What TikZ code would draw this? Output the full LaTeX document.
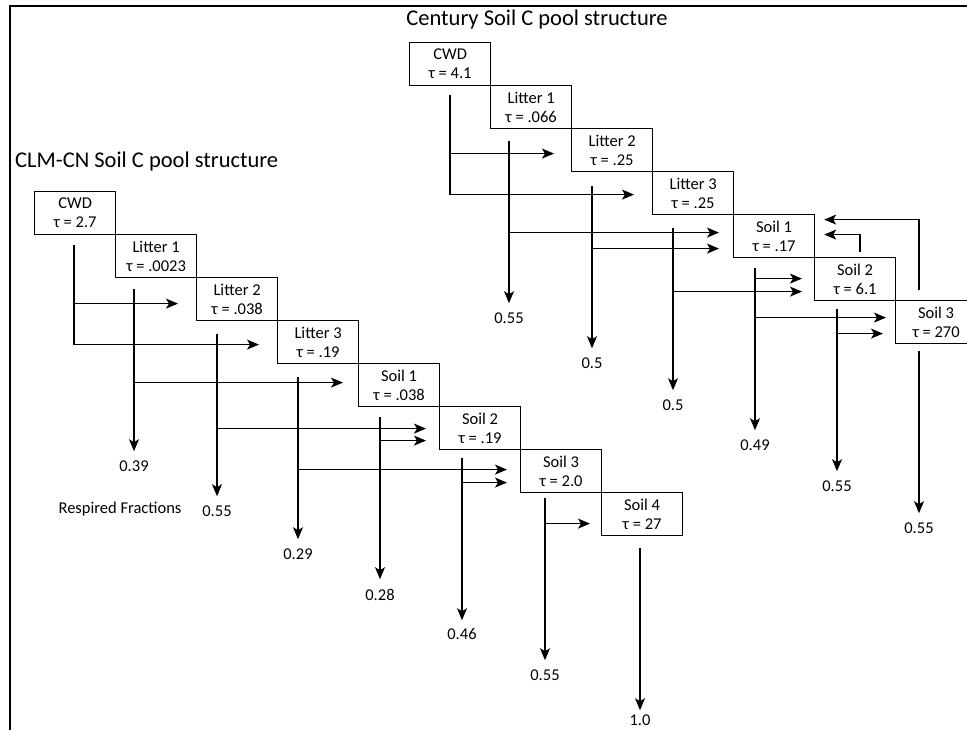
\documentclass[tikz,border=0pt]{standalone}
\usepackage{fontspec}
\setmainfont{Carlito}
\usetikzlibrary{arrows.meta,calc}
\begin{document}
\begin{tikzpicture}[x=1pt,y=-1pt,
  pool/.style={draw, line width=1.2pt, minimum width=81pt, minimum height=43pt,
    inner sep=0pt, anchor=north west, align=center, font=\fontsize{16.5}{19}\selectfont},
  flow/.style={line width=1.1pt, -{Stealth[length=12pt,width=10pt,inset=3pt]}},
  frac/.style={font=\fontsize{16.5}{19}\selectfont, inner sep=0pt, anchor=base},
  ttl/.style={font=\fontsize{22.5}{26}\selectfont, inner sep=0pt}]
\useasboundingbox (0,0) rectangle (967,730);
% frame
\draw[line width=2.7pt, line join=miter] (10,730) -- (10,6) -- (968,6);
% titles
\node[ttl, anchor=base] (tcent) at (537,26) {Century Soil C pool structure};
\node[ttl, anchor=base west] (tclm) at (15,168) {CLM-CN Soil C pool structure};
\node[frac] (resp) at (120,513) {Respired Fractions};

% ---------------- CLM-CN pools ----------------
\node[pool] (lcwd) at (34,191)  {CWD\\τ = 2.7};
\node[pool] (ll1)  at (115,234) {Litter 1\\τ = .0023};
\node[pool] (ll2)  at (196,277) {Litter 2\\τ = .038};
\node[pool] (ll3)  at (277,320) {Litter 3\\τ = .19};
\node[pool] (ls1)  at (358,363) {Soil 1\\τ = .038};
\node[pool] (ls2)  at (439,406) {Soil 2\\τ = .19};
\node[pool] (ls3)  at (520,449) {Soil 3\\τ = 2.0};
\node[pool] (ls4)  at (601,492) {Soil 4\\τ = 27};

% outlets (top of each pool's outflow line)
\coordinate (lcwd-o) at ($(lcwd.south west)+(40,10)$);
\coordinate (ll1-o)  at ($(ll1.south west)+(19,11)$);
\coordinate (ll2-o)  at ($(ll2.south west)+(21,13)$);
\coordinate (ll3-o)  at ($(ll3.south west)+(21,13)$);
\coordinate (ls1-o)  at ($(ls1.south west)+(22,10)$);
\coordinate (ls2-o)  at ($(ls2.south west)+(23,8)$);
\coordinate (ls3-o)  at ($(ls3.south west)+(25,5)$);
\coordinate (ls4-o)  at ($(ls4.south west)+(39,12)$);

% transfer targets
\coordinate (t-l2)  at ($(ll2.west)+(-18,4.5)$);
\coordinate (t-l3)  at ($(ll3.west)+(-18,2.5)$);
\coordinate (t-s1)  at ($(ls1.west)+(-15,-2.5)$);
\coordinate (t-s2a) at ($(ls2.west)+(-13,0.5)$);
\coordinate (t-s2b) at ($(ls2.west)+(-13,12.5)$);
\coordinate (t-s3a) at ($(ls3.west)+(-13,-1.5)$);
\coordinate (t-s3b) at ($(ls3.west)+(-13,11.5)$);
\coordinate (t-s4)  at ($(ls4.west)+(-11,9.5)$);

\draw[flow] (lcwd-o) |- (t-l3);
\draw[flow] (lcwd-o |- t-l2) -- (t-l2);
\draw[flow] (ll1-o |- t-s1) -- (t-s1);
\draw[flow] (ll2-o |- t-s2a) -- (t-s2a);
\draw[flow] (ls1-o |- t-s2b) -- (t-s2b);
\draw[flow] (ll3-o |- t-s3a) -- (t-s3a);
\draw[flow] (ls2-o |- t-s3b) -- (t-s3b);
\draw[flow] (ls3-o |- t-s4) -- (t-s4);

% respiration
\foreach \p/\v/\d in {ll1/0.39/20, ll2/0.55/20, ll3/0.29/20, ls1/0.28/21, ls2/0.46/19, ls3/0.55/20, ls4/1.0/15}{
  \draw[flow] (\p-o) -- ++(0,162) coordinate (\p-r);
  \node[frac] (\p-f) at ($(\p-r)+(0,\d)$) {\v};
}

% ---------------- Century pools ----------------
\node[pool] (rcwd) at (409,42)  {CWD\\τ = 4.1};
\node[pool] (rl1)  at (490,85)  {Litter 1\\τ = .066};
\node[pool] (rl2)  at (571,128) {Litter 2\\τ = .25};
\node[pool] (rl3)  at (652,171) {Litter 3\\τ = .25};
\node[pool] (rs1)  at (733,214) {Soil 1\\τ = .17};
\node[pool] (rs2)  at (814,257) {Soil 2\\τ = 6.1};
\node[pool] (rs3)  at (895,300) {Soil 3\\τ = 270};

\coordinate (rcwd-o) at ($(rcwd.south west)+(41,9)$);
\coordinate (rl1-o)  at ($(rl1.south west)+(19,12)$);
\coordinate (rl2-o)  at ($(rl2.south west)+(21,14)$);
\coordinate (rl3-o)  at ($(rl3.south west)+(21,13)$);
\coordinate (rs1-o)  at ($(rs1.south west)+(22,10)$);
\coordinate (rs2-o)  at ($(rs2.south west)+(23,8)$);
\coordinate (rs3-o)  at ($(rs3.south west)+(24,7)$);

\coordinate (u-l2)  at ($(rl2.west)+(-17,3.5)$);
\coordinate (u-l3)  at ($(rl3.west)+(-18,1.5)$);
\coordinate (u-s1a) at ($(rs1.west)+(-14,-3.5)$);
\coordinate (u-s1b) at ($(rs1.west)+(-14,12.5)$);
\coordinate (u-s2a) at ($(rs2.west)+(-12,-0.5)$);
\coordinate (u-s2b) at ($(rs2.west)+(-12,12.5)$);
\coordinate (u-s3a) at ($(rs3.west)+(-9,-4.5)$);
\coordinate (u-s3b) at ($(rs3.west)+(-12,11.5)$);

\draw[flow] (rcwd-o) |- (u-l3);
\draw[flow] (rcwd-o |- u-l2) -- (u-l2);
\draw[flow] (rl1-o |- u-s1a) -- (u-s1a);
\draw[flow] (rl2-o |- u-s1b) -- (u-s1b);
\draw[flow] (rs1-o |- u-s2a) -- (u-s2a);
\draw[flow] (rl3-o |- u-s2b) -- (u-s2b);
\draw[flow] (rs1-o |- u-s3a) -- (u-s3a);
\draw[flow] (rs2-o |- u-s3b) -- (u-s3b);

% feedback to Soil 1
\coordinate (rs2-u) at ($(rs2.north west)+(46,-5)$);
\coordinate (rs3-u) at ($(rs3.north west)+(24,-10)$);
\coordinate (fb1) at ($(rs1.east)+(9,-1.5)$);
\coordinate (fb2) at ($(rs1.east)+(9,-16.5)$);
\draw[flow] (rs2-u) |- (fb1);
\draw[flow] (rs3-u) |- (fb2);

\foreach \p/\v in {rl1/0.55, rl2/0.5, rl3/0.5, rs1/0.49, rs2/0.55, rs3/0.55}{
  \draw[flow] (\p-o) -- ++(0,162) coordinate (\p-r);
  \node[frac] (\p-f) at ($(\p-r)+(0,20)$) {\v};
}
\end{tikzpicture}
\end{document}
